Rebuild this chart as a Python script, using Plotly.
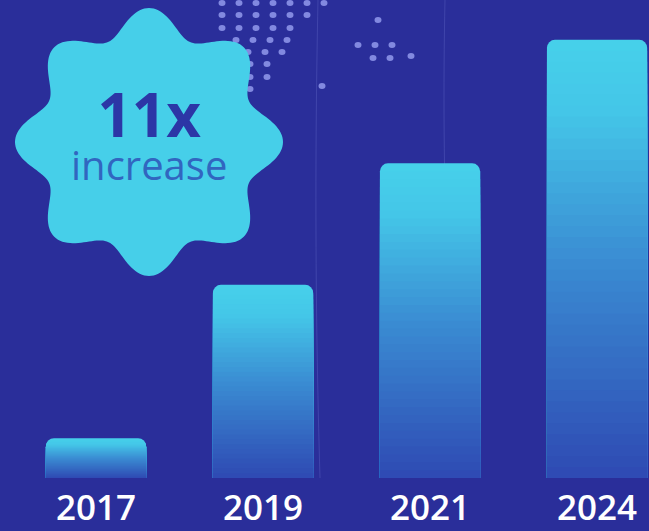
import numpy as np
import plotly.graph_objects as go

# ---- data ----
years = ["2017", "2019", "2021", "2024"]
values = [1.0, 4.85, 7.9, 11.0]
badge_big = "11x"
badge_small = "increase"

# ---- style ----
BG = "#2a2e9a"
W, H = 649, 531
MB = 53
PH = H - MB

def lerp_color(c1, c2, t):
    a = [int(c1[i:i + 2], 16) for i in (1, 3, 5)]
    b = [int(c2[i:i + 2], 16) for i in (1, 3, 5)]
    return "rgb(%d,%d,%d)" % tuple(round(a[i] + (b[i] - a[i]) * t) for i in range(3))

stops = [(0.0, "#2e48b2"), (0.5, "#3a8bd2"), (0.85, "#44c6e8"), (1.0, "#46d0ea")]

def grad(t):
    for (t0, c0), (t1, c1) in zip(stops[:-1], stops[1:]):
        if t <= t1:
            return lerp_color(c0, c1, (t - t0) / (t1 - t0))
    return stops[-1][1]

fig = go.Figure()
N = 40
for k in range(N):
    f = 1 - k / N
    fig.add_trace(go.Bar(
        x=years, y=[v * f for v in values], width=0.6,
        marker=dict(color=grad(f), line=dict(width=0), cornerradius=8),
        hoverinfo="skip", showlegend=False,
    ))

# ---- decorative dots (paper coords) ----
shapes = []
def px2paper(x, y):
    return x / W, 1 - y / PH

def dot(xx, yy, rx=3.5, ry=3):
    cx, cy = px2paper(xx, yy)
    return dict(type="circle", xref="paper", yref="paper",
                x0=cx - rx / W, x1=cx + rx / W, y0=cy - ry / PH, y1=cy + ry / PH,
                fillcolor="#8289e0", line=dict(width=0), layer="below")

dot_rows = [(3, 222, 7), (15, 222, 6), (28, 222, 5), (40, 236, 4), (52, 248, 3), (64, 250, 2), (77, 250, 2), (89, 250, 1)]
for yy, x0, n in dot_rows:
    for i in range(n):
        shapes.append(dot(x0 + i * 17, yy))
for xx, yy in [(378, 20), (358, 45), (375, 45), (392, 45), (373, 58), (390, 58), (411, 56), (322, 86)]:
    shapes.append(dot(xx, yy))

# faint vertical-ish arcs
for xs in [(318, 300, 330), (445, 430, 470)]:
    pts = []
    for t in np.linspace(0, 1, 30):
        x = xs[0] + (xs[2] - xs[0]) * t ** 2 - 10 * t
        y = t * 478
        px, py = px2paper(x, y)
        pts.append(f"{px:.5f},{py:.5f}")
    shapes.append(dict(type="path", xref="paper", yref="paper",
                       path="M" + " L".join(pts), line=dict(color="rgba(140,150,230,0.22)", width=1), layer="below"))

# ---- badge ----
cxp, cyp = 149, 142
th = np.linspace(0, 2 * np.pi, 361)
r = 121 + 13 * np.cos(8 * th)
pts = []
for a, rr in zip(th, r):
    x = cxp + rr * np.cos(a)
    y = cyp - rr * np.sin(a)
    px, py = px2paper(x, y)
    pts.append(f"{px:.5f},{py:.5f}")
shapes.append(dict(type="path", xref="paper", yref="paper",
                   path="M" + " L".join(pts) + " Z",
                   fillcolor="#46cfe9", line=dict(width=0), layer="above"))

ann = [
    dict(text=(f"<span style='font-size:60px;color:#2c36a6'><b>{badge_big}</b></span><br>"
               f"<span style='font-size:40px'>{badge_small}</span>"),
         xref="paper", yref="paper",
         x=149 / W, y=1 - 133 / PH, xanchor="center", yanchor="middle", showarrow=False,
         font=dict(family="Open Sans", size=33, color="#3166c0", weight=400)),
]

fig.update_layout(
    width=W, height=H, barmode="overlay",
    paper_bgcolor=BG, plot_bgcolor=BG,
    margin=dict(l=0, r=0, t=0, b=MB),
    shapes=shapes, annotations=ann,
    xaxis=dict(range=[-0.575, 3.311], showgrid=False, zeroline=False, showline=False,
               ticks="", tickfont=dict(family="Open Sans", size=35, color="white", weight=600),
               ticklabelstandoff=6, automargin=False, fixedrange=True),
    yaxis=dict(range=[0, 12.0], visible=False, automargin=False, fixedrange=True),
    showlegend=False,
)

fig.write_html("out.html", config={"displayModeBar": False},
               post_script="document.body.style.margin='0px';document.body.style.overflow='hidden';")
